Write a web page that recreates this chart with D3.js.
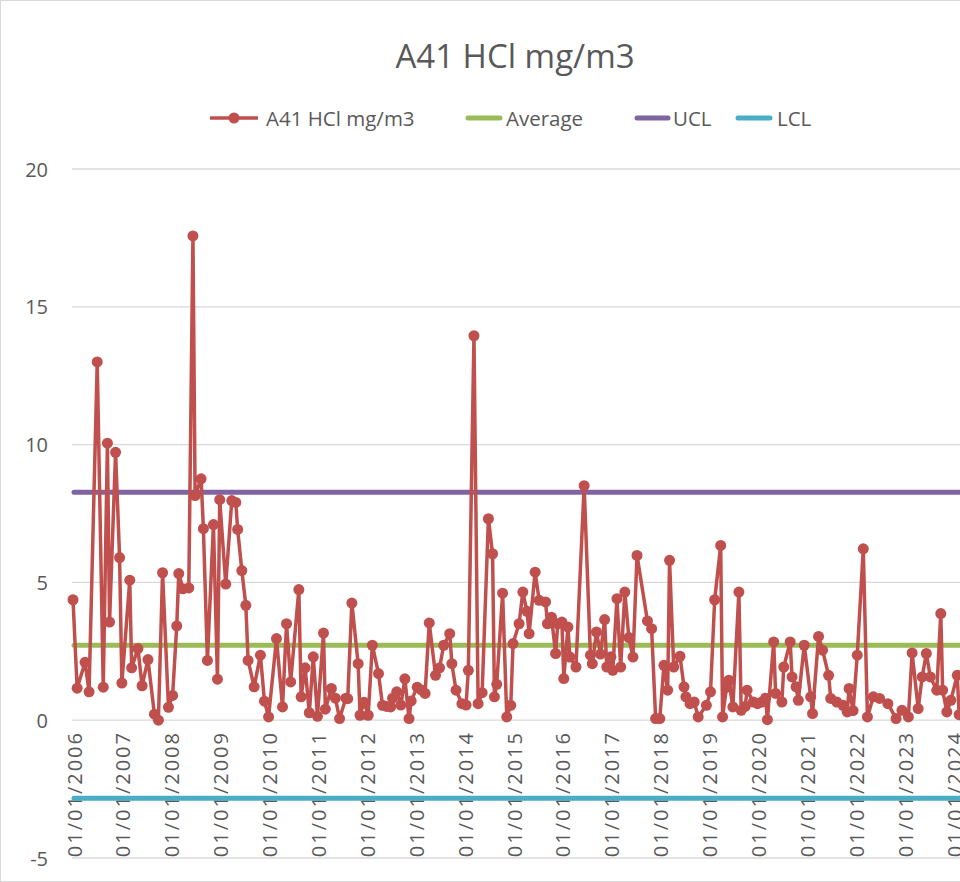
<!DOCTYPE html>
<html>
<head>
<meta charset="utf-8">
<script src="https://cdn.jsdelivr.net/npm/d3@7"></script>
<style>
  html, body { margin: 0; padding: 0; background: #fff; }
  svg { display: block; font-family: "Open Sans", "Noto Sans", sans-serif; }
</style>
</head>
<body>
<svg id="chart" width="960" height="882"></svg>
<script>
// ---- data ----
const title = "A41 HCl mg/m3";
const seriesNames = ["A41 HCl mg/m3", "Average", "UCL", "LCL"];
const dates = [
"2006-01-01","2006-02-01","2006-04-01","2006-05-01","2006-07-01","2006-08-15","2006-09-15","2006-10-01","2006-11-15","2006-12-15",
"2007-01-01","2007-03-01","2007-03-15","2007-05-01","2007-06-01","2007-07-15","2007-09-01","2007-10-01","2007-11-01","2007-12-15",
"2008-01-15","2008-02-15","2008-03-01","2008-04-01","2008-05-15","2008-06-15","2008-07-01","2008-08-15","2008-09-01","2008-10-01","2008-11-15","2008-12-15",
"2009-01-01","2009-02-15","2009-04-01","2009-05-01","2009-05-15","2009-06-15","2009-07-15","2009-08-01","2009-09-15","2009-11-01","2009-12-01",
"2010-01-01","2010-03-01","2010-04-15","2010-05-15","2010-06-15","2010-08-15","2010-09-01","2010-10-01","2010-11-01","2010-12-01",
"2011-01-01","2011-02-15","2011-03-01","2011-04-15","2011-05-15","2011-06-15","2011-08-01","2011-08-15","2011-09-15","2011-11-01","2011-11-15","2011-12-15",
"2012-01-15","2012-02-15","2012-04-01","2012-05-01","2012-06-01","2012-07-01","2012-07-15","2012-08-15","2012-09-15","2012-10-15","2012-11-15","2012-12-01",
"2013-01-15","2013-02-15","2013-03-15","2013-04-15","2013-06-01","2013-07-01","2013-08-01","2013-09-15","2013-10-01","2013-11-01","2013-12-15",
"2014-01-15","2014-02-01","2014-03-15","2014-04-15","2014-05-15","2014-07-01","2014-08-01","2014-08-15","2014-09-01","2014-10-15","2014-11-15","2014-12-15",
"2015-01-01","2015-02-15","2015-03-15","2015-04-15","2015-05-01","2015-06-15","2015-07-15","2015-09-01","2015-09-15","2015-10-15","2015-11-15","2015-12-01",
"2016-01-01","2016-01-15","2016-02-15","2016-03-01","2016-04-15","2016-06-15","2016-08-01","2016-08-15","2016-09-15","2016-10-15","2016-11-15","2016-12-01",
"2017-01-01","2017-01-15","2017-02-15","2017-03-15","2017-04-15","2017-05-15","2017-06-15","2017-07-15","2017-10-01","2017-11-01","2017-12-01",
"2018-01-01","2018-02-01","2018-03-01","2018-03-15","2018-04-15","2018-06-01","2018-07-01","2018-07-15","2018-08-15","2018-09-15","2018-10-15","2018-12-15",
"2019-01-15","2019-02-15","2019-04-01","2019-04-15","2019-05-15","2019-06-01","2019-07-01","2019-08-15","2019-09-01","2019-10-01","2019-10-15","2019-12-01",
"2020-01-01","2020-02-01","2020-03-01","2020-03-15","2020-05-01","2020-05-15","2020-07-01","2020-07-15","2020-09-01","2020-09-15","2020-10-15","2020-11-01","2020-12-15",
"2021-02-01","2021-02-15","2021-04-01","2021-05-01","2021-06-15","2021-07-01","2021-08-15","2021-10-01","2021-11-01","2021-11-15","2021-12-15",
"2022-01-15","2022-03-01","2022-04-01","2022-05-15","2022-07-01","2022-09-01","2022-11-01","2022-12-15",
"2023-02-01","2023-03-01","2023-04-15","2023-05-15","2023-06-15","2023-07-15","2023-09-01","2023-10-01","2023-10-15","2023-11-15","2023-12-15",
"2024-02-01","2024-02-15"
];
const values = [
4.37,1.16,2.1,1.03,13.0,1.2,10.05,3.56,9.72,5.9,
1.35,5.08,1.9,2.6,1.25,2.2,0.22,0.0,5.35,0.47,
0.9,3.42,5.32,4.77,4.8,17.57,8.15,8.76,6.95,2.17,7.1,1.49,
8.0,4.94,7.97,7.9,6.92,5.43,4.17,2.17,1.21,2.36,0.69,
0.12,2.96,0.48,3.5,1.39,4.74,0.85,1.9,0.27,2.3,
0.14,3.16,0.4,1.15,0.8,0.06,0.8,0.78,4.25,2.05,0.18,0.65,
0.18,2.72,1.69,0.54,0.5,0.48,0.8,1.03,0.55,1.5,0.06,0.7,
1.2,1.1,0.97,3.53,1.63,1.9,2.72,3.14,2.05,1.09,0.6,
0.55,1.81,13.95,0.6,1.0,7.31,6.04,0.85,1.3,4.61,0.12,0.54,
2.78,3.5,4.65,3.95,3.14,5.37,4.35,4.29,3.5,3.74,2.42,3.5,
3.56,1.51,3.38,2.29,1.93,8.51,2.36,2.05,3.2,2.4,3.65,1.93,
2.3,1.81,4.41,1.93,4.65,3.0,2.29,5.98,3.6,3.32,0.06,
0.06,1.99,1.09,5.8,1.93,2.32,1.21,0.85,0.6,0.66,0.12,0.54,
1.03,4.37,6.34,0.12,1.2,1.45,0.48,4.65,0.36,0.5,1.09,0.66,
0.6,0.66,0.8,0.02,2.84,0.97,0.66,1.93,2.84,1.57,1.21,0.72,2.72,
0.85,0.24,3.04,2.54,1.63,0.79,0.66,0.54,0.3,1.15,0.35,
2.36,6.22,0.12,0.85,0.79,0.6,0.06,0.36,
0.12,2.44,0.42,1.57,2.42,1.57,1.09,3.87,1.09,0.3,0.72,
1.63,0.2
];
const averageValue = 2.72;
const uclValue = 8.27;
const lclValue = -2.83;
const yTicks = [-5, 0, 5, 10, 15, 20];
const tickYears = d3.range(2006, 2025);
const tickLabels = tickYears.map(y => "01/01/" + y);

// ---- layout ----
const svg = d3.select("#chart");
const W = 960, H = 882;
const plotLeft = 72, plotRight = 1005;
const parse = d3.timeParse("%Y-%m-%d");
const data = dates.map((d, i) => ({ date: parse(d), value: values[i] }));

const x = d3.scaleTime()
  .domain([new Date(2006, 0, 1), new Date(2025, 0, 1)])
  .range([73, 73 + 19 * 48.9]);
const y = d3.scaleLinear().domain([-5, 20]).range([858, 169]);

const textColor = "#595959";
const colors = { series: "#C0504D", avg: "#9BBB59", ucl: "#8064A2", lcl: "#4BACC6" };

// chart border
svg.append("rect").attr("x", 0.5).attr("y", 0.5).attr("width", W + 20).attr("height", H - 1)
  .attr("fill", "none").attr("stroke", "#d9d9d9").attr("stroke-width", 1);

// title
svg.append("text").attr("x", 515).attr("y", 55).attr("text-anchor", "middle")
  .attr("dominant-baseline", "central")
  .attr("font-size", 33).attr("fill", textColor).text(title);

// gridlines
svg.append("g").selectAll("line").data(yTicks).join("line")
  .attr("x1", plotLeft).attr("x2", plotRight)
  .attr("y1", d => y(d)).attr("y2", d => y(d))
  .attr("stroke", "#d9d9d9").attr("stroke-width", 1.3);

// y axis labels
svg.append("g").selectAll("text").data(yTicks).join("text")
  .attr("x", 48).attr("y", d => y(d)).attr("text-anchor", "end")
  .attr("dominant-baseline", "central")
  .attr("font-size", 20).attr("fill", textColor).text(d => d);

// x axis labels
svg.append("g").selectAll("text").data(tickYears).join("text")
  .attr("transform", d => `translate(${x(new Date(d, 0, 1)) + 1},731) rotate(-90)`)
  .attr("text-anchor", "end").attr("dominant-baseline", "central")
  .attr("font-size", 20).attr("letter-spacing", 2).attr("fill", textColor)
  .text((d, i) => tickLabels[i]);

// control lines
const hl = [[averageValue, colors.avg], [uclValue, colors.ucl], [lclValue, colors.lcl]];
svg.append("g").selectAll("line").data(hl).join("line")
  .attr("x1", plotLeft + 2).attr("x2", plotRight)
  .attr("y1", d => y(d[0])).attr("y2", d => y(d[0]))
  .attr("stroke", d => d[1]).attr("stroke-width", 5).attr("stroke-linecap", "round");

// series line
const line = d3.line().x(d => x(d.date)).y(d => y(d.value));
svg.append("path").datum(data).attr("d", line)
  .attr("fill", "none").attr("stroke", colors.series).attr("stroke-width", 3.5)
  .attr("stroke-linejoin", "round");
svg.append("g").selectAll("circle").data(data).join("circle")
  .attr("cx", d => x(d.date)).attr("cy", d => y(d.value)).attr("r", 5.5)
  .attr("fill", colors.series);

// legend
const legend = svg.append("g");
const items = [
  { name: seriesNames[0], color: colors.series, x1: 210, x2: 258, tx: 266, marker: true },
  { name: seriesNames[1], color: colors.avg, x1: 468, x2: 500, tx: 506 },
  { name: seriesNames[2], color: colors.ucl, x1: 637, x2: 668, tx: 673 },
  { name: seriesNames[3], color: colors.lcl, x1: 738, x2: 770, tx: 777 }
];
items.forEach(it => {
  legend.append("line").attr("x1", it.x1).attr("x2", it.x2).attr("y1", 118).attr("y2", 118)
    .attr("stroke", it.color).attr("stroke-width", it.marker ? 3.5 : 5)
    .attr("stroke-linecap", it.marker ? "butt" : "round");
  if (it.marker) legend.append("circle").attr("cx", (it.x1 + it.x2) / 2).attr("cy", 118)
    .attr("r", 5.5).attr("fill", it.color);
  legend.append("text").attr("x", it.tx).attr("y", 118).attr("dominant-baseline", "central")
    .attr("font-size", 20.5).attr("fill", textColor).text(it.name);
});
</script>
</body>
</html>
